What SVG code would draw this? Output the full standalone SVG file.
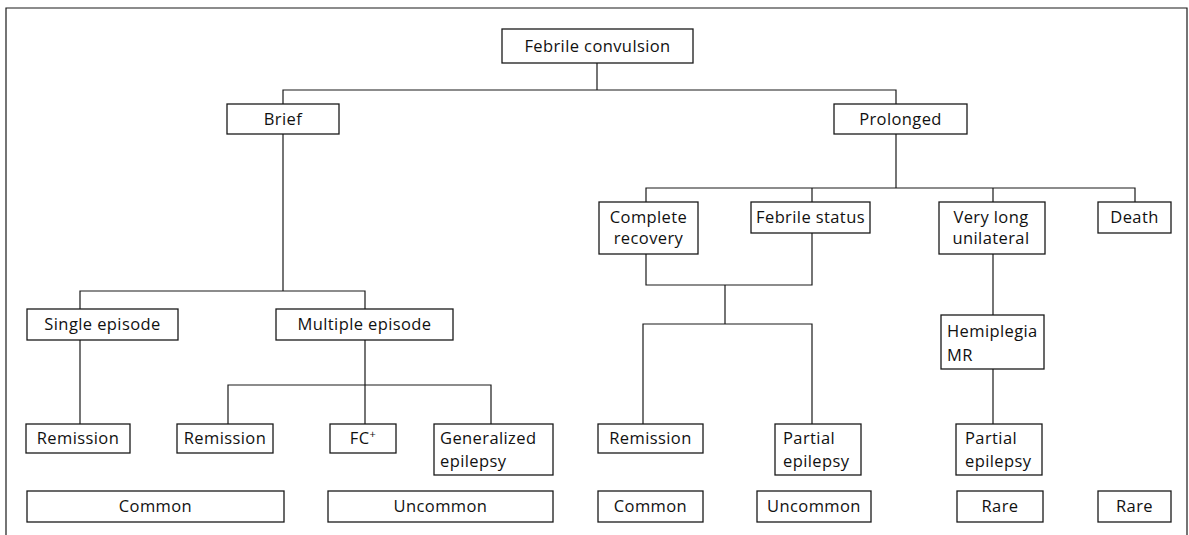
<svg xmlns="http://www.w3.org/2000/svg" width="1189" height="535" viewBox="0 0 1189 535">
<style>
.b{fill:#fff;stroke:#1a1a1a;stroke-width:1.3}
.t{font-family:"Open Sans","DejaVu Sans",sans-serif;font-size:16.5px;letter-spacing:0.4px;fill:#111;text-anchor:middle}
.l{text-anchor:start}
.c{fill:none;stroke:#1a1a1a;stroke-width:1.2}
</style>
<rect width="1189" height="535" fill="#fff"/>
<path class="c" d="M6,535 V8 H1187 V535"/>
<g id="connectors">
<path class="c" d="M597,63 V90 M283,104 V90 H896 V104"/>
<path class="c" d="M283,134 V291 M80,309 V291 H365 V309"/>
<path class="c" d="M80,340 V424"/>
<path class="c" d="M365,340 V424 M228,424 V385 H491 V424"/>
<path class="c" d="M896,134 V188 M646,202 V188 H1135 V202 M812,188 V202 M993,188 V202"/>
<path class="c" d="M646,254 V285 H812 V233 M725,285 V324 M643,424 V324 H812 V424"/>
<path class="c" d="M993,254 V315 M993,369 V424"/>
</g>
<g id="n-febrile"><rect class="b" x="502" y="29" width="191" height="34"/><text class="t" x="597.5" y="52">Febrile convulsion</text></g>
<g id="n-brief"><rect class="b" x="227" y="104" width="112" height="30"/><text class="t" x="283" y="125">Brief</text></g>
<g id="n-prolonged"><rect class="b" x="834" y="104" width="133" height="30"/><text class="t" x="900.5" y="125">Prolonged</text></g>
<g id="n-single"><rect class="b" x="27" y="309" width="151" height="31"/><text class="t" x="102.5" y="330">Single episode</text></g>
<g id="n-multiple"><rect class="b" x="276" y="309" width="177" height="31"/><text class="t" x="364.5" y="330">Multiple episode</text></g>
<g id="n-rem1"><rect class="b" x="26" y="424" width="104" height="29"/><text class="t" x="78" y="444">Remission</text></g>
<g id="n-rem2"><rect class="b" x="177" y="424" width="96" height="29"/><text class="t" x="225" y="444">Remission</text></g>
<g id="n-fc"><rect class="b" x="330" y="424" width="66" height="29"/><text class="t" x="363" y="444">FC<tspan dy="-6" font-size="11">+</tspan></text></g>
<g id="n-gen"><rect class="b" x="434" y="424" width="119" height="51"/><text class="t l" x="440" y="444">Generalized</text><text class="t l" x="440" y="467">epilepsy</text></g>
<g id="n-common1"><rect class="b" x="27" y="491" width="257" height="31"/><text class="t" x="155.5" y="512">Common</text></g>
<g id="n-uncommon1"><rect class="b" x="328" y="491" width="225" height="31"/><text class="t" x="440.5" y="512">Uncommon</text></g>
<g id="n-complete"><rect class="b" x="599" y="202" width="99" height="52"/><text class="t" x="648.5" y="223">Complete</text><text class="t" x="648.5" y="244">recovery</text></g>
<g id="n-fstatus"><rect class="b" x="751" y="202" width="119" height="31"/><text class="t" x="810.5" y="223">Febrile status</text></g>
<g id="n-verylong"><rect class="b" x="939" y="202" width="106" height="52"/><text class="t" x="991" y="223">Very long</text><text class="t" x="991" y="244">unilateral</text></g>
<g id="n-death"><rect class="b" x="1098" y="202" width="73" height="31"/><text class="t" x="1134.5" y="223">Death</text></g>
<g id="n-hemi"><rect class="b" x="941" y="315" width="103" height="54"/><text class="t l" x="947" y="337">Hemiplegia</text><text class="t l" x="947" y="361">MR</text></g>
<g id="n-rem3"><rect class="b" x="598" y="424" width="105" height="29"/><text class="t" x="650.5" y="444">Remission</text></g>
<g id="n-partial1"><rect class="b" x="775" y="424" width="86" height="51"/><text class="t l" x="783" y="444">Partial</text><text class="t l" x="783" y="467">epilepsy</text></g>
<g id="n-partial2"><rect class="b" x="956" y="424" width="86" height="51"/><text class="t l" x="965" y="444">Partial</text><text class="t l" x="965" y="467">epilepsy</text></g>
<g id="n-common2"><rect class="b" x="598" y="491" width="105" height="31"/><text class="t" x="650.5" y="512">Common</text></g>
<g id="n-uncommon2"><rect class="b" x="757" y="491" width="114" height="31"/><text class="t" x="814" y="512">Uncommon</text></g>
<g id="n-rare1"><rect class="b" x="957" y="491" width="86" height="31"/><text class="t" x="1000" y="512">Rare</text></g>
<g id="n-rare2"><rect class="b" x="1098" y="491" width="73" height="31"/><text class="t" x="1134.5" y="512">Rare</text></g>
</svg>
